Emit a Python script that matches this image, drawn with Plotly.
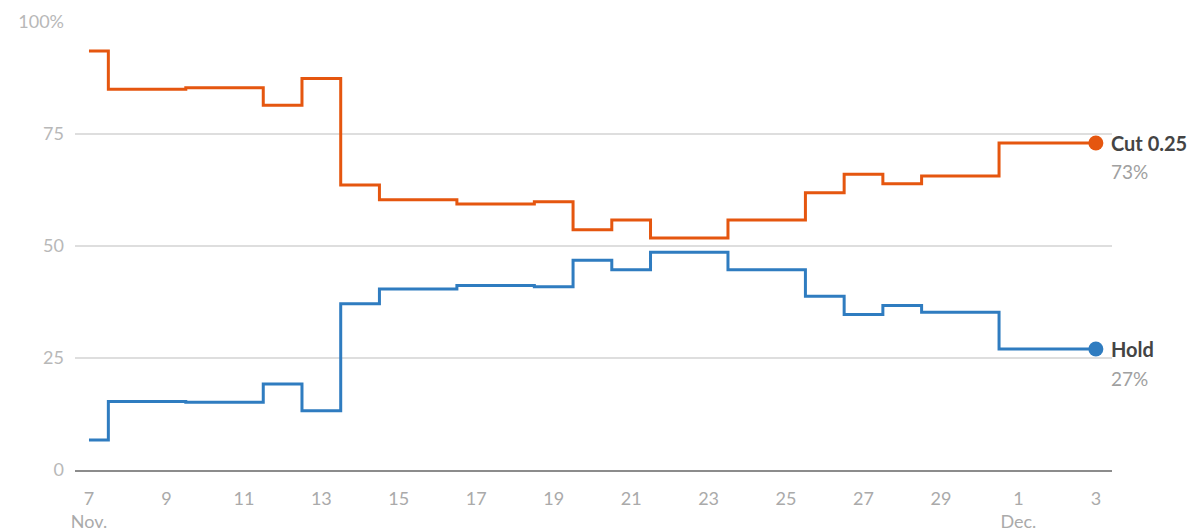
import plotly.graph_objects as go
import pandas as pd

dates = pd.date_range("2024-11-07", "2024-12-03", freq="D")
cut_025 = [93.5, 85.0, 85.0, 85.3, 85.3, 81.4, 87.4, 63.6, 60.3, 60.3, 59.4, 59.4, 59.9,
           53.6, 55.8, 51.8, 51.8, 55.8, 55.8, 61.9, 66.0, 63.9, 65.6, 65.6, 73.0, 73.0, 73.0]
hold = [6.7, 15.3, 15.3, 15.1, 15.1, 19.2, 13.2, 37.1, 40.4, 40.4, 41.2, 41.2, 40.9,
        46.8, 44.7, 48.6, 48.6, 44.7, 44.7, 38.8, 34.7, 36.7, 35.2, 35.2, 27.0, 27.0, 27.0]

tick_vals = pd.date_range("2024-11-07", "2024-12-03", freq="2D")
tick_text = ["7<br>Nov.", "9", "11", "13", "15", "17", "19", "21", "23", "25", "27", "29", "1<br>Dec.", "3"]
y_ticks = [0, 25, 50, 75, 100]
y_text = ["0", "25", "50", "75", "100%"]

ORANGE = "#e5560f"
BLUE = "#2f7cc0"
series = [("Cut 0.25", cut_025, ORANGE), ("Hold", hold, BLUE)]

fig = go.Figure()
for name, vals, col in series:
    fig.add_trace(go.Scatter(x=dates, y=vals, mode="lines", line=dict(color=col, width=3, shape="hvh"),
                             name=name, showlegend=False, hoverinfo="skip"))
    fig.add_trace(go.Scatter(x=[dates[-1]], y=[vals[-1]], mode="markers",
                             marker=dict(color=col, size=15), showlegend=False, hoverinfo="skip"))
    fig.add_annotation(x=dates[-1], y=vals[-1], text=f"<b>{name}</b>", showarrow=False,
                       xanchor="left", yanchor="middle", xshift=13,
                       font=dict(family="Lato", size=20, color="#444444"))
    fig.add_annotation(x=dates[-1], y=vals[-1], text=f"{round(vals[-1])}%", showarrow=False,
                       xanchor="left", yanchor="middle", xshift=13, yshift=-29,
                       font=dict(family="Lato", size=19, color="#a0a0a0"))

fig.update_layout(
    width=1202, height=532,
    margin=dict(l=75, r=90, t=22, b=62),
    plot_bgcolor="white", paper_bgcolor="white",
    font=dict(family="Lato", size=18, color="#aaaaaa"),
)
fig.update_xaxes(
    range=[pd.Timestamp("2024-11-06 15:20"), pd.Timestamp("2024-12-03 10:00")],
    tickvals=tick_vals, ticktext=tick_text, showgrid=False, zeroline=False, automargin=False,
    showline=True, linecolor="#8c8c8c", linewidth=2, ticks="", ticklabelstandoff=11,
    tickfont=dict(family="Lato", size=18, color="#aaaaaa"),
)
fig.update_yaxes(
    range=[0, 100], tickvals=y_ticks, ticktext=y_text, showgrid=True, gridcolor="#dedede",
    gridwidth=1.5, zeroline=False, showline=False, ticks="", ticklabelstandoff=10, automargin=False,
    tickfont=dict(family="Lato", size=18, color="#b8b8b8"),
)
fig.write_html("out.html")
